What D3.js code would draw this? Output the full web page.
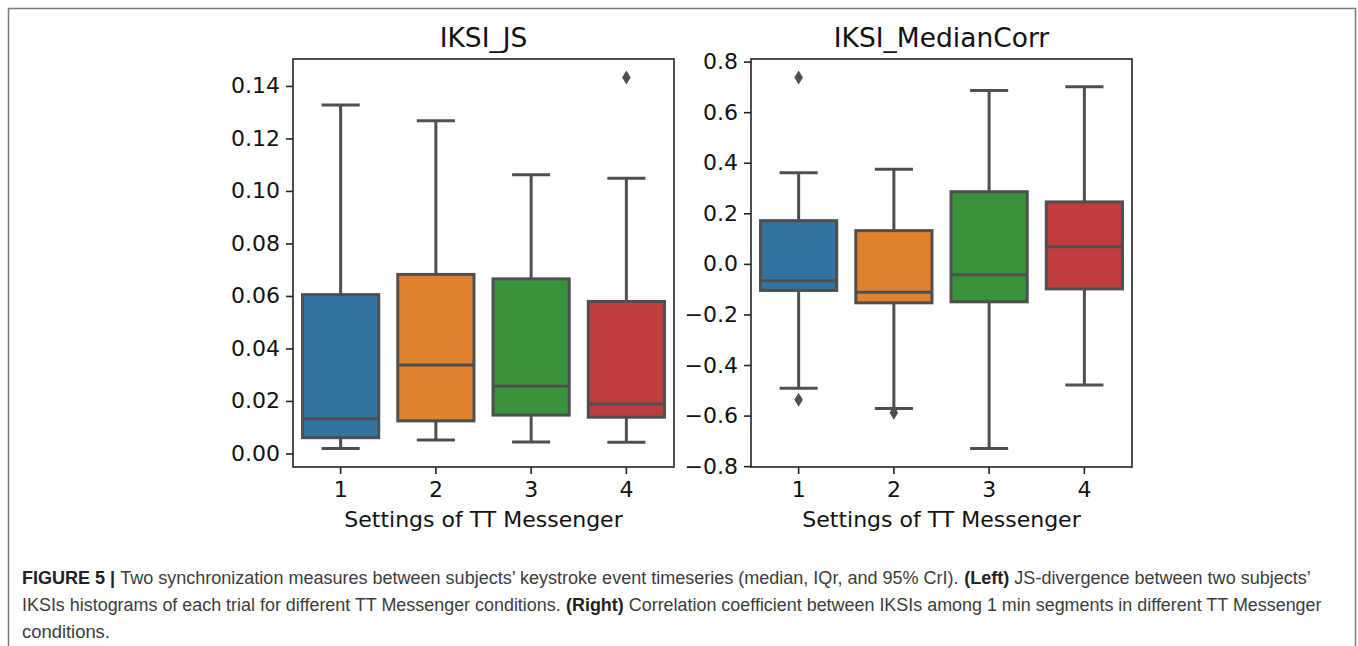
<!DOCTYPE html>
<html>
<head>
<meta charset="utf-8">
<script src="https://cdn.jsdelivr.net/npm/d3@7"></script>
<style>
  html, body { margin: 0; padding: 0; background: #fff; }
  svg { display: block; }
</style>
</head>
<body>
<svg id="chart" width="1358" height="646"></svg>
<script>
// ---- data ----
const categories = ["1", "2", "3", "4"];
const boxColors = ["#3274a1", "#e1812c", "#3a923a", "#c03d3e"];

// Left panel: IKSI_JS
const jsWhiskerLow  = [0.0019, 0.0051, 0.0044, 0.0043];
const jsQ1          = [0.0060, 0.0124, 0.0146, 0.0138];
const jsMedian      = [0.0132, 0.0337, 0.0256, 0.0188];
const jsQ3          = [0.0605, 0.0682, 0.0665, 0.0579];
const jsWhiskerHigh = [0.1327, 0.1267, 0.1062, 0.1048];
const jsOutliers    = [[], [], [], [0.1432]];
const jsTicks       = [0, 0.02, 0.04, 0.06, 0.08, 0.10, 0.12, 0.14];

// Right panel: IKSI_MedianCorr
const mcWhiskerLow  = [-0.492, -0.572, -0.730, -0.479];
const mcQ1          = [-0.105, -0.154, -0.150, -0.099];
const mcMedian      = [-0.067, -0.112, -0.043, 0.068];
const mcQ3          = [0.171, 0.1315, 0.2855, 0.245];
const mcWhiskerHigh = [0.360, 0.374, 0.686, 0.701];
const mcOutliers    = [[0.737, -0.537], [-0.589], [], []];
const mcTicks       = [-0.8, -0.6, -0.4, -0.2, 0.0, 0.2, 0.4, 0.6, 0.8];

const panelTitles = ["IKSI_JS", "IKSI_MedianCorr"];
const xAxisLabel = "Settings of TT Messenger";

// ---- drawing ----
const svg = d3.select("#chart");
const LINE = "#4f4f4f";
const FONT = "DejaVu Sans, sans-serif";

// outer frame (top, left, right)
svg.append("path")
  .attr("d", "M8.5,646 L8.5,8.5 L1355.5,8.5 L1355.5,646")
  .attr("fill", "none").attr("stroke", "#7a7a7a").attr("stroke-width", 1.5);

function drawPanel(opts) {
  const {x0, x1, y0, y1, low, q1, med, q3, high, outliers, ticks, fmt, title} = opts;
  const g = svg.append("g");
  const allVals = low.concat(high, outliers.flat());
  const mn = d3.min(allVals), mx = d3.max(allVals);
  const pad = (mx - mn) * 0.05;
  const y = d3.scaleLinear().domain([mn - pad, mx + pad]).range([y1, y0]);
  const x = d3.scaleBand().domain(categories).range([x0, x1])
    .paddingInner(0.2).paddingOuter(0.1);
  const bw = x.bandwidth();

  categories.forEach((c, i) => {
    const cx = x(c) + bw / 2;
    const bg = g.append("g");
    bg.append("line").attr("x1", cx).attr("x2", cx).attr("y1", y(q3[i])).attr("y2", y(high[i]))
      .attr("stroke", LINE).attr("stroke-width", 3);
    bg.append("line").attr("x1", cx).attr("x2", cx).attr("y1", y(q1[i])).attr("y2", y(low[i]))
      .attr("stroke", LINE).attr("stroke-width", 3);
    [low[i], high[i]].forEach(v => {
      bg.append("line").attr("x1", cx - bw / 4).attr("x2", cx + bw / 4)
        .attr("y1", y(v)).attr("y2", y(v)).attr("stroke", LINE).attr("stroke-width", 3);
    });
    bg.append("rect").attr("x", x(c)).attr("width", bw)
      .attr("y", y(q3[i])).attr("height", y(q1[i]) - y(q3[i]))
      .attr("fill", boxColors[i]).attr("stroke", LINE).attr("stroke-width", 3);
    bg.append("line").attr("x1", x(c)).attr("x2", x(c) + bw)
      .attr("y1", y(med[i])).attr("y2", y(med[i])).attr("stroke", LINE).attr("stroke-width", 3);
    outliers[i].forEach(v => {
      const py = y(v), hw = 4.3, hh = 7;
      bg.append("path")
        .attr("d", `M${cx},${py - hh} L${cx + hw},${py} L${cx},${py + hh} L${cx - hw},${py} Z`)
        .attr("fill", LINE);
    });
  });

  g.append("rect").attr("x", x0).attr("y", y0).attr("width", x1 - x0).attr("height", y1 - y0)
    .attr("fill", "none").attr("stroke", "#222").attr("stroke-width", 1.6);

  const ya = g.append("g").attr("transform", `translate(${x0},0)`)
    .call(d3.axisLeft(y).tickValues(ticks).tickFormat(d3.format(fmt)).tickSizeOuter(0).tickSize(7).tickPadding(6));
  ya.select(".domain").remove();
  ya.selectAll(".tick line").attr("stroke", "#222").attr("stroke-width", 1.6);
  ya.selectAll(".tick text").attr("font-family", FONT).attr("font-size", 22).attr("fill", "#111");

  const xa = g.append("g").attr("transform", `translate(0,${y1})`)
    .call(d3.axisBottom(x).tickSizeOuter(0).tickSize(7).tickPadding(7));
  xa.select(".domain").remove();
  xa.selectAll(".tick line").attr("stroke", "#222").attr("stroke-width", 1.6);
  xa.selectAll(".tick text").attr("font-family", FONT).attr("font-size", 22).attr("fill", "#111");

  g.append("text").attr("x", (x0 + x1) / 2).attr("y", 47)
    .attr("text-anchor", "middle").attr("font-family", FONT).attr("font-size", 26.5)
    .attr("fill", "#111").text(title);
  g.append("text").attr("x", (x0 + x1) / 2).attr("y", 527)
    .attr("text-anchor", "middle").attr("font-family", FONT).attr("font-size", 22)
    .attr("fill", "#111").text(xAxisLabel);
}

drawPanel({x0: 293, x1: 674, y0: 59, y1: 467,
  low: jsWhiskerLow, q1: jsQ1, med: jsMedian, q3: jsQ3, high: jsWhiskerHigh,
  outliers: jsOutliers, ticks: jsTicks, fmt: ".2f", title: panelTitles[0]});
drawPanel({x0: 751, x1: 1132, y0: 59, y1: 467,
  low: mcWhiskerLow, q1: mcQ1, med: mcMedian, q3: mcQ3, high: mcWhiskerHigh,
  outliers: mcOutliers, ticks: mcTicks, fmt: ".1f", title: panelTitles[1]});

// caption: each part is its own text, laid out by measured width, then the
// whole line is squeezed horizontally to the reference width
const CAP_FONT = "Liberation Sans, Arial, sans-serif";
const captionLines = [
  {y: 584, len: 1289, parts: [
    {t: "FIGURE 5 |", b: true},
    {t: "Two synchronization measures between subjects\u2019 keystroke event timeseries (median, IQr, and 95% CrI).", b: false},
    {t: "(Left)", b: true},
    {t: "JS-divergence between two subjects\u2019", b: false}]},
  {y: 611, len: 1300, parts: [
    {t: "IKSIs histograms of each trial for different TT Messenger conditions.", b: false},
    {t: "(Right)", b: true},
    {t: "Correlation coefficient between IKSIs among 1 min segments in different TT Messenger", b: false}]},
  {y: 638, len: 88, parts: [{t: "conditions.", b: false}]}
];
const CAP_SIZE = 18.5;
const SPACE = CAP_SIZE * 0.278;
captionLines.forEach(line => {
  const lg = svg.append("g");
  let cursor = 0;
  line.parts.forEach((p, k) => {
    const t = lg.append("text").attr("x", cursor).attr("y", 0)
      .attr("font-family", CAP_FONT).attr("font-size", CAP_SIZE)
      .attr("font-weight", p.b ? "bold" : "normal")
      .attr("fill", p.b ? "#222" : "#3c3c3c").text(p.t);
    cursor += t.node().getComputedTextLength();
    if (k < line.parts.length - 1) cursor += SPACE;
  });
  const sx = line.len / cursor;
  lg.attr("transform", `translate(22,${line.y}) scale(${sx},1)`);
});
</script>
</body>
</html>
